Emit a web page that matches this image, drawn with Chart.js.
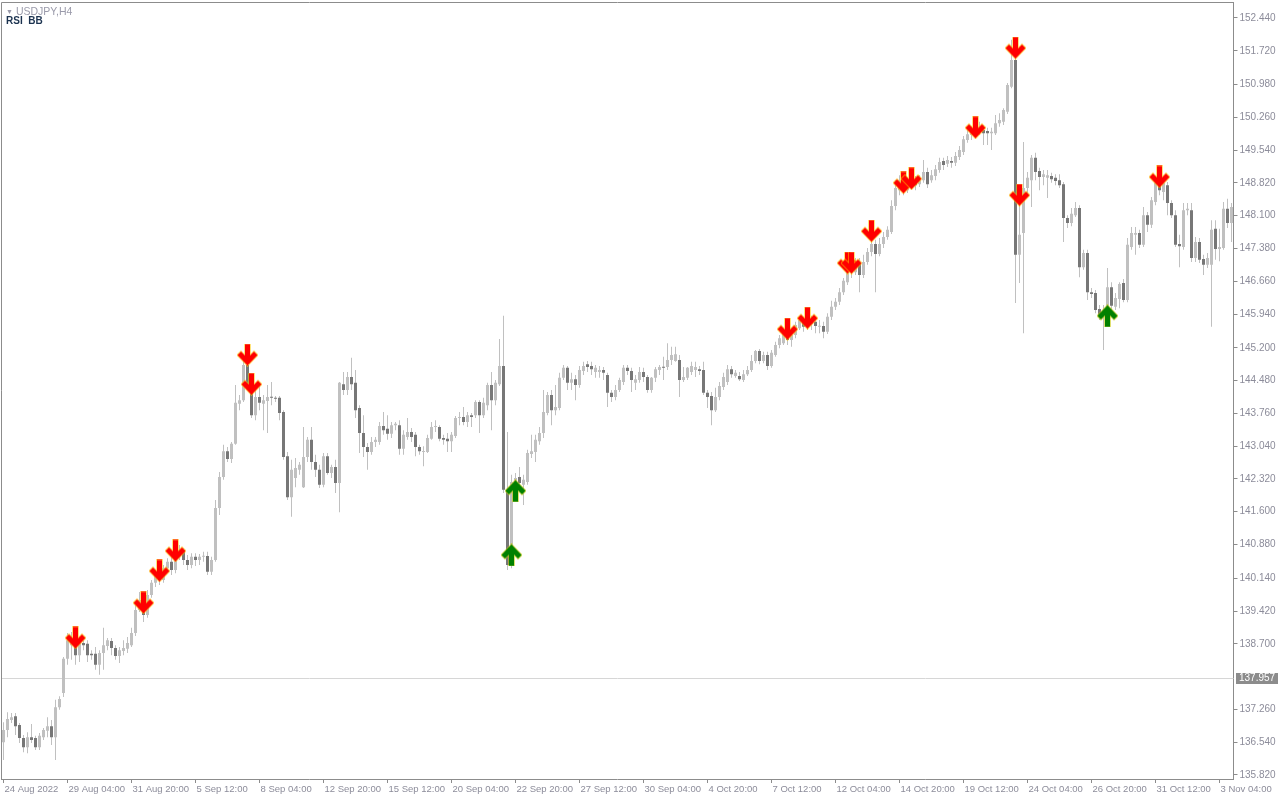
<!DOCTYPE html>
<html>
<head>
<meta charset="utf-8">
<script src="https://cdn.jsdelivr.net/npm/chart.js@4.4.0/dist/chart.umd.min.js"></script>
<style>
  html, body { margin: 0; padding: 0; background: #fff; }
  #wrap { position: relative; width: 1280px; height: 800px; }
  #chart { display: block; }
  #symbol { position: absolute; left: 6px; top: 5px; font: 10.5px "Liberation Sans", Arial, sans-serif; color: #9a9aaa; }
  #symbol span { font-size: 7px; vertical-align: 1px; margin-right: 3px; }
  #ind { position: absolute; left: 6px; top: 15px; font: bold 10px "Liberation Sans", Arial, sans-serif; color: #1c3350; white-space: pre; }
</style>
</head>
<body>
<div id="wrap">
  <canvas id="chart" width="1280" height="800"></canvas>
  <div id="symbol"><span>&#9660;</span>USDJPY,H4</div>
  <div id="ind">RSI  BB</div>
</div>
<script>
// USDJPY H4, 24 Aug - 3 Nov 2022
const xTickLabels = ['24 Aug 2022', '29 Aug 04:00', '31 Aug 20:00', '5 Sep 12:00', '8 Sep 04:00',
  '12 Sep 20:00', '15 Sep 12:00', '20 Sep 04:00', '22 Sep 20:00', '27 Sep 12:00', '30 Sep 04:00',
  '4 Oct 20:00', '7 Oct 12:00', '12 Oct 04:00', '14 Oct 20:00', '19 Oct 12:00', '24 Oct 04:00',
  '26 Oct 20:00', '31 Oct 12:00', '3 Nov 04:00'];
const yTickValues = [152.44, 151.72, 150.98, 150.26, 149.54, 148.82, 148.10, 147.38, 146.66, 145.94,
  145.20, 144.48, 143.76, 143.04, 142.32, 141.60, 140.88, 140.14, 139.42, 138.70, 137.26, 136.54, 135.82];
const bidPrice = 137.957;

const opens = [
  136.54, 136.81, 137.03, 137.11, 136.92, 136.63, 136.43, 136.65, 136.63, 136.43,
  136.65, 136.79, 136.89, 136.65, 137.31, 137.62, 138.37, 138.67, 138.70, 138.45,
  138.72, 138.70, 138.48, 138.48, 138.24, 138.50, 138.65, 138.76, 138.61, 138.43,
  138.54, 138.59, 138.67, 138.94, 139.44, 139.66, 139.33, 139.77, 140.04, 140.21,
  140.10, 140.36, 140.50, 140.32, 140.63, 140.76, 140.54, 140.43, 140.61, 140.54,
  140.61, 140.63, 140.28, 140.54, 141.68, 142.36, 142.93, 142.76, 143.09, 143.97,
  144.05, 144.82, 144.38, 143.72, 144.12, 143.97, 144.03, 144.12, 144.10, 144.10,
  143.79, 142.82, 141.92, 142.34, 142.52, 142.14, 142.80, 143.18, 142.69, 142.52,
  142.19, 142.82, 142.45, 142.58, 142.23, 144.40, 144.27, 144.56, 144.43, 143.88,
  143.33, 143.02, 142.91, 143.13, 143.13, 143.48, 143.42, 143.31, 143.50, 143.50,
  142.98, 143.24, 143.35, 143.29, 143.02, 142.91, 142.91, 143.20, 143.46, 143.46,
  143.22, 143.20, 143.15, 143.26, 143.66, 143.68, 143.57, 143.72, 143.72, 144.01,
  143.72, 143.94, 144.38, 144.05, 144.40, 144.80, 142.08, 140.50, 142.25, 142.36,
  142.19, 142.25, 142.87, 142.91, 143.15, 143.33, 143.77, 144.16, 143.83, 143.88,
  144.54, 144.76, 144.43, 144.51, 144.38, 144.69, 144.84, 144.80, 144.67, 144.67,
  144.71, 144.60, 144.21, 144.12, 144.27, 144.45, 144.76, 144.69, 144.43, 144.49,
  144.67, 144.56, 144.27, 144.54, 144.71, 144.78, 144.78, 144.93, 144.91, 144.93,
  144.49, 144.54, 144.67, 144.71, 144.73, 144.71, 144.21, 144.14, 143.83, 144.12,
  144.34, 144.45, 144.73, 144.58, 144.58, 144.49, 144.62, 144.71, 144.91, 145.13,
  144.91, 145.04, 144.80, 145.04, 145.26, 145.30, 145.46, 145.37, 145.48, 145.63,
  145.77, 145.66, 145.72, 145.77, 145.66, 145.68, 145.55, 145.88, 146.10, 146.21,
  146.42, 146.64, 146.95, 146.86, 147.06, 146.80, 147.08, 147.30, 147.48, 147.26,
  147.48, 147.63, 147.74, 148.31, 148.66, 148.88, 148.66, 148.79, 148.88, 148.79,
  148.88, 149.06, 148.88, 148.97, 149.10, 149.30, 149.24, 149.30, 149.26, 149.39,
  149.50, 149.76, 149.87, 150.03, 149.94, 149.98, 149.96, 149.91, 149.91, 150.13,
  150.16, 150.38, 150.93, 151.52, 147.24, 147.72, 148.71, 148.88, 149.37, 149.08,
  148.95, 148.93, 148.97, 148.93, 148.88, 148.79, 148.05, 147.94, 148.11, 148.27,
  146.97, 147.28, 146.42, 146.40, 146.05, 145.92, 146.10, 146.53, 146.10, 146.27,
  146.62, 146.25, 147.41, 147.68, 147.72, 147.46, 148.11, 147.90, 148.40, 148.82,
  148.62, 148.77, 148.38, 148.11, 147.48, 147.41, 148.22, 148.22, 147.17, 147.52,
  147.15, 147.02, 147.02, 147.81, 147.37, 147.39, 148.25, 147.94
];
const highs = [
  136.98, 137.20, 137.18, 137.18, 136.96, 136.70, 136.76, 136.94, 136.68, 136.74,
  136.85, 137.09, 137.03, 137.47, 137.55, 138.41, 138.94, 138.96, 138.87, 138.85,
  138.78, 138.78, 138.56, 138.63, 138.56, 139.05, 138.83, 138.83, 138.67, 138.63,
  138.78, 138.85, 139.05, 139.55, 139.84, 139.75, 139.88, 140.10, 140.32, 140.36,
  140.43, 140.58, 140.61, 140.72, 140.87, 140.80, 140.65, 140.69, 140.69, 140.67,
  140.72, 140.72, 140.61, 141.86, 142.47, 143.07, 143.02, 143.13, 144.38, 144.16,
  144.98, 145.11, 144.49, 144.27, 144.43, 144.16, 144.38, 144.45, 144.14, 144.14,
  143.83, 142.91, 142.74, 142.78, 142.69, 143.46, 143.24, 143.46, 142.85, 142.63,
  142.89, 142.89, 142.63, 142.74, 144.45, 144.67, 144.67, 144.98, 144.71, 143.94,
  143.72, 143.11, 143.24, 143.24, 143.57, 143.79, 143.72, 143.57, 143.57, 143.61,
  143.39, 143.66, 143.44, 143.35, 143.07, 143.04, 143.29, 143.57, 143.61, 143.50,
  143.29, 143.33, 143.35, 143.70, 143.79, 143.90, 143.79, 143.77, 144.05, 144.05,
  144.10, 144.43, 144.67, 144.49, 145.39, 145.90, 143.35, 142.41, 142.45, 142.58,
  142.41, 142.96, 143.29, 143.29, 143.46, 144.27, 144.23, 144.27, 144.38, 144.65,
  144.82, 144.80, 144.65, 144.60, 144.80, 144.89, 144.91, 144.89, 144.82, 144.80,
  144.78, 144.65, 144.27, 144.38, 144.54, 144.82, 144.82, 144.76, 144.60, 144.78,
  144.76, 144.60, 144.56, 144.78, 144.82, 145.00, 145.30, 145.22, 145.22, 145.04,
  144.78, 144.78, 144.89, 144.89, 144.80, 144.89, 144.27, 144.23, 144.32, 144.45,
  144.65, 144.82, 144.80, 144.71, 144.67, 144.71, 144.80, 145.04, 145.15, 145.17,
  145.11, 145.11, 145.15, 145.33, 145.48, 145.59, 145.59, 145.59, 145.77, 145.90,
  145.85, 145.90, 145.90, 145.85, 145.81, 145.77, 145.96, 146.23, 146.29, 146.51,
  146.73, 147.02, 147.08, 147.17, 147.17, 147.24, 147.39, 147.57, 147.57, 147.61,
  147.74, 147.87, 148.44, 148.88, 148.99, 148.99, 148.93, 149.06, 148.97, 148.99,
  149.32, 149.15, 149.10, 149.21, 149.37, 149.37, 149.41, 149.39, 149.50, 149.63,
  149.85, 149.98, 150.05, 150.11, 150.16, 150.09, 150.03, 150.03, 150.31, 150.35,
  150.46, 151.01, 151.96, 151.91, 148.44, 149.72, 149.06, 149.43, 149.48, 149.15,
  149.10, 149.10, 149.04, 149.01, 149.01, 148.84, 148.11, 148.27, 148.40, 148.33,
  147.35, 147.35, 146.51, 146.47, 146.14, 146.14, 146.95, 146.64, 146.40, 146.64,
  146.71, 147.61, 147.85, 147.85, 147.79, 148.29, 148.18, 148.51, 148.84, 148.93,
  148.93, 148.84, 148.44, 148.22, 147.68, 148.38, 148.38, 148.38, 147.63, 147.61,
  147.24, 147.28, 148.00, 148.00, 147.81, 148.40, 148.47, 148.38
];
const lows = [
  136.15, 136.65, 136.96, 136.70, 136.52, 136.32, 136.30, 136.52, 136.37, 136.37,
  136.59, 136.65, 136.48, 136.15, 137.25, 137.53, 138.24, 138.35, 138.24, 138.30,
  138.56, 138.30, 138.35, 138.13, 138.02, 138.13, 138.56, 138.45, 138.35, 138.28,
  138.45, 138.50, 138.63, 138.87, 139.40, 139.18, 139.27, 139.71, 139.95, 139.99,
  140.04, 140.28, 140.21, 140.25, 140.54, 140.43, 140.32, 140.36, 140.41, 140.43,
  140.50, 140.21, 140.21, 140.50, 141.53, 142.30, 142.69, 142.67, 143.07, 143.83,
  144.01, 144.27, 143.66, 143.61, 143.83, 143.39, 143.33, 143.94, 144.01, 143.61,
  142.74, 141.86, 141.49, 142.14, 142.41, 142.12, 142.69, 142.52, 142.36, 142.12,
  142.14, 142.41, 142.34, 142.01, 141.59, 144.16, 144.16, 144.27, 143.66, 142.89,
  142.80, 142.52, 142.85, 143.02, 143.07, 143.29, 143.18, 143.22, 143.39, 142.85,
  142.85, 143.18, 143.13, 142.82, 142.85, 142.60, 142.89, 143.18, 143.35, 143.15,
  143.07, 142.91, 142.91, 143.22, 143.50, 143.50, 143.46, 143.46, 143.66, 143.33,
  143.66, 143.83, 143.39, 143.94, 144.36, 142.01, 140.32, 140.36, 142.08, 142.08,
  141.75, 142.19, 142.78, 142.69, 143.07, 143.22, 143.72, 143.50, 143.72, 143.83,
  144.49, 144.27, 144.27, 144.05, 144.32, 144.60, 144.67, 144.60, 144.54, 144.54,
  144.49, 143.90, 144.01, 144.05, 144.23, 144.38, 144.60, 144.23, 144.27, 144.43,
  144.45, 144.21, 144.21, 144.45, 144.60, 144.49, 144.71, 144.82, 144.89, 144.12,
  144.45, 144.49, 144.60, 144.56, 144.60, 144.16, 143.88, 143.50, 143.79, 144.05,
  144.27, 144.38, 144.54, 144.54, 144.47, 144.45, 144.58, 144.67, 144.86, 144.84,
  144.86, 144.71, 144.76, 145.00, 145.19, 145.26, 145.26, 145.22, 145.41, 145.59,
  145.55, 145.59, 145.59, 145.52, 145.52, 145.41, 145.50, 145.81, 146.03, 146.14,
  146.36, 146.58, 146.73, 146.80, 146.42, 146.73, 147.02, 147.21, 146.42, 147.21,
  147.39, 147.57, 147.70, 148.22, 148.55, 148.55, 148.60, 148.71, 148.66, 148.73,
  148.82, 148.71, 148.82, 148.88, 149.04, 149.10, 149.17, 149.15, 149.19, 149.32,
  149.43, 149.70, 149.76, 149.83, 149.87, 149.65, 149.65, 149.54, 149.87, 150.05,
  150.09, 150.33, 150.90, 146.18, 146.62, 145.52, 148.55, 148.29, 148.88, 148.66,
  148.77, 148.49, 148.82, 148.77, 148.71, 147.52, 147.83, 147.87, 148.07, 146.75,
  146.91, 146.25, 146.29, 145.96, 145.81, 145.15, 146.03, 145.96, 146.03, 146.07,
  146.20, 146.20, 147.35, 147.24, 147.39, 147.41, 147.74, 147.83, 148.33, 148.55,
  148.44, 148.11, 148.05, 147.41, 146.97, 147.35, 148.11, 147.08, 147.08, 147.06,
  146.80, 146.95, 145.66, 147.13, 147.10, 147.35, 147.83, 147.52
];
const closes = [
  136.81, 137.05, 137.09, 136.89, 136.63, 136.43, 136.65, 136.59, 136.43, 136.68,
  136.81, 136.89, 136.65, 137.31, 137.49, 138.37, 138.78, 138.83, 138.45, 138.72,
  138.67, 138.45, 138.45, 138.24, 138.50, 138.67, 138.78, 138.61, 138.43, 138.56,
  138.61, 138.72, 138.94, 139.44, 139.66, 139.33, 139.77, 140.04, 140.21, 140.10,
  140.36, 140.50, 140.32, 140.63, 140.76, 140.54, 140.43, 140.61, 140.54, 140.61,
  140.63, 140.28, 140.54, 141.68, 142.36, 142.93, 142.76, 143.09, 143.99, 144.05,
  144.82, 144.38, 143.72, 144.12, 143.99, 144.05, 144.12, 144.10, 144.08, 143.77,
  142.80, 141.92, 142.52, 142.56, 142.63, 142.80, 143.18, 142.69, 142.52, 142.19,
  142.82, 142.45, 142.58, 142.23, 144.43, 144.27, 144.56, 144.40, 143.83, 143.33,
  143.02, 142.91, 143.13, 143.18, 143.48, 143.39, 143.31, 143.50, 143.53, 142.98,
  143.29, 143.35, 143.24, 143.02, 142.93, 142.93, 143.22, 143.46, 143.48, 143.20,
  143.18, 143.15, 143.29, 143.66, 143.68, 143.57, 143.72, 143.68, 144.01, 143.72,
  143.99, 144.38, 144.05, 144.43, 144.80, 142.08, 140.43, 142.25, 142.34, 142.23,
  142.30, 142.89, 142.93, 143.18, 143.33, 143.79, 144.16, 143.83, 143.90, 144.54,
  144.76, 144.43, 144.51, 144.38, 144.71, 144.80, 144.78, 144.73, 144.76, 144.71,
  144.65, 144.21, 144.12, 144.27, 144.49, 144.76, 144.69, 144.49, 144.51, 144.67,
  144.56, 144.27, 144.54, 144.73, 144.78, 144.76, 144.93, 145.04, 145.06, 144.49,
  144.56, 144.76, 144.80, 144.78, 144.69, 144.21, 144.12, 143.83, 144.12, 144.36,
  144.56, 144.73, 144.62, 144.65, 144.51, 144.62, 144.71, 144.91, 145.13, 144.91,
  145.04, 144.80, 145.09, 145.26, 145.41, 145.52, 145.37, 145.48, 145.70, 145.81,
  145.66, 145.74, 145.77, 145.68, 145.68, 145.55, 145.88, 146.10, 146.21, 146.42,
  146.67, 146.95, 146.86, 147.06, 146.80, 147.08, 147.30, 147.48, 147.26, 147.48,
  147.63, 147.79, 148.31, 148.71, 148.88, 148.66, 148.82, 148.90, 148.77, 148.88,
  149.06, 148.79, 148.99, 149.12, 149.28, 149.21, 149.32, 149.26, 149.41, 149.54,
  149.78, 149.89, 149.96, 149.94, 150.05, 149.91, 149.91, 149.94, 150.13, 150.20,
  150.42, 150.97, 151.52, 147.24, 147.68, 148.71, 148.93, 149.37, 149.06, 148.95,
  149.01, 148.99, 148.90, 148.86, 148.77, 148.05, 147.94, 148.14, 148.27, 146.97,
  147.28, 146.42, 146.38, 146.03, 145.92, 145.99, 146.53, 146.12, 146.29, 146.60,
  146.25, 147.46, 147.72, 147.72, 147.46, 148.11, 147.90, 148.44, 148.82, 148.66,
  148.82, 148.38, 148.11, 147.46, 147.43, 148.22, 148.25, 147.17, 147.52, 147.13,
  147.02, 147.17, 147.79, 147.37, 147.41, 148.25, 147.94, 148.29
];

// signal arrows: bar index and price at the arrow centre
const sellIdx = [18, 35, 39, 43, 61, 62, 196, 201, 211, 212, 217, 225, 227, 243, 253, 254, 289];
const sellAt = [138.83, 139.60, 140.30, 140.74, 145.04, 144.40, 145.61, 145.85, 147.06, 147.06,
  147.76, 148.82, 148.91, 150.03, 151.78, 148.55, 148.95];
const buyIdx = [127, 128, 276];
const buyAt = [140.65, 142.06, 145.90];

const upColor = '#c0c0c0';
const downColor = '#777777';
const wickColor = '#c0c0c0';
const axisColor = '#8c8c8c';
const textColor = '#8c8c9a';

const barCount = closes.length;
const bars = closes.map((c, i) => i);
const bodies = opens.map((o, i) => [o, closes[i]]);
const wicks = lows.map((l, i) => [l, highs[i]]);
const bodyColors = opens.map((o, i) => closes[i] >= o ? upColor : downColor);

const sellPoints = new Array(barCount).fill(null);
sellIdx.forEach((k, j) => { sellPoints[k] = sellAt[j]; });
const buyPoints = new Array(barCount).fill(null);
buyIdx.forEach((k, j) => { buyPoints[k] = buyAt[j]; });

function makeArrow(fill, edge, up) {
  const c = document.createElement('canvas');
  c.width = 21;
  c.height = 23;
  const g = c.getContext('2d');
  if (up) { g.translate(0, 23); g.scale(1, -1); }
  const pts = [[8, 0.5], [13, 0.5], [13, 12], [17, 8], [20.5, 11.5], [10.5, 22], [0.5, 11.5], [4, 8], [8, 12]];
  g.beginPath();
  pts.forEach((p, i) => i ? g.lineTo(p[0], p[1]) : g.moveTo(p[0], p[1]));
  g.closePath();
  g.strokeStyle = edge;
  g.lineWidth = 1.6;
  g.stroke();
  g.fillStyle = fill;
  g.fill();
  return c;
}

const frame = {
  id: 'frame',
  beforeDatasetsDraw(chart) {
    const { ctx, chartArea: a, scales } = chart;
    const y = Math.round(scales.y.getPixelForValue(bidPrice)) + 0.5;
    ctx.save();
    ctx.lineWidth = 1;
    ctx.strokeStyle = '#d6d6d6';
    ctx.beginPath();
    ctx.moveTo(a.left, y);
    ctx.lineTo(a.right, y);
    ctx.stroke();
    ctx.strokeStyle = axisColor;
    ctx.beginPath();
    ctx.moveTo(1.5, a.bottom);
    ctx.lineTo(1.5, 2.5);
    ctx.lineTo(a.right, 2.5);
    ctx.stroke();
    ctx.restore();
  },
  afterDraw(chart) {
    const { ctx, chartArea: a, scales } = chart;
    const y = Math.round(scales.y.getPixelForValue(bidPrice));
    ctx.save();
    ctx.fillStyle = axisColor;
    ctx.fillRect(a.right + 2.5, y - 5, 42, 11);
    ctx.fillStyle = '#ffffff';
    ctx.font = '10px "Liberation Sans", Arial, sans-serif';
    ctx.textBaseline = 'middle';
    ctx.fillText(bidPrice.toFixed(3), a.right + 5.5, y + 0.5);
    ctx.restore();
  }
};

Chart.defaults.font.family = '"Liberation Sans", Arial, sans-serif';

new Chart(document.getElementById('chart'), {
  type: 'bar',
  data: {
    labels: bars,
    datasets: [
      {
        type: 'line', data: sellPoints, showLine: false,
        pointStyle: makeArrow('#ff0000', 'rgba(255,200,0,0.65)', false),
        pointRadius: 10, pointHoverRadius: 10
      },
      {
        type: 'line', data: buyPoints, showLine: false,
        pointStyle: makeArrow('#008000', 'rgba(200,200,0,0.7)', true),
        pointRadius: 10, pointHoverRadius: 10
      },
      {
        data: bodies, backgroundColor: bodyColors, barThickness: 3, grouped: false,
        minBarLength: 1, inflateAmount: 0, borderWidth: 0
      },
      {
        data: wicks, backgroundColor: wickColor, barThickness: 1, grouped: false,
        inflateAmount: 0, borderWidth: 0
      }
    ]
  },
  options: {
    responsive: false,
    animation: false,
    devicePixelRatio: 1,
    events: [],
    layout: { autoPadding: false, padding: { left: 1.5, top: 2, right: 0, bottom: 0 } },
    plugins: { legend: { display: false }, tooltip: { enabled: false } },
    scales: {
      x: {
        offset: true,
        afterFit: s => { s.height = 21; s.paddingLeft = 0; s.paddingRight = 0; },
        ticks: {
          autoSkip: false, maxRotation: 0, minRotation: 0, align: 'start',
          padding: 1, labelOffset: 1, color: textColor, font: { size: 9.5 },
          callback: (v, i) => i % 16 === 0 ? xTickLabels[i / 16] : ''
        },
        grid: {
          drawOnChartArea: false, offset: false, tickLength: 4,
          color: c => c.index % 16 === 0 ? axisColor : 'rgba(0,0,0,0)'
        },
        border: { color: axisColor }
      },
      y: {
        position: 'right',
        min: 135.732,
        max: 152.791,
        afterBuildTicks: s => { s.ticks = yTickValues.map(v => ({ value: v })); },
        afterFit: s => { s.width = 46.5; s.paddingTop = 0; s.paddingBottom = 0; },
        ticks: { autoSkip: false, padding: 2, color: textColor, font: { size: 10 }, callback: v => v.toFixed(3) },
        grid: { drawOnChartArea: false, tickLength: 4, color: axisColor },
        border: { color: axisColor }
      }
    }
  },
  plugins: [frame]
});
</script>
</body>
</html>
